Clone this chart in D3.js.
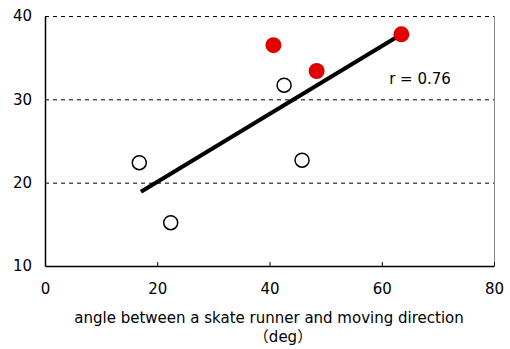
<!DOCTYPE html>
<html>
<head>
<meta charset="utf-8">
<script src="https://cdn.jsdelivr.net/npm/d3@7"></script>
<style>
  body { margin: 0; background: #fff; }
  text { font-family: "DejaVu Sans", "Noto Sans CJK JP", sans-serif; fill: #000; }
</style>
</head>
<body>
<div id="container"></div>
<script>
const WIDTH = 510;
const HEIGHT = 349;
const LEFT = 45, RIGHT = 494, TOP = 16, BOTTOM = 266;

// data
const openX = [16.8, 22.4, 42.6, 45.8];
const openY = [22.4, 15.2, 31.7, 22.7];
const redX = [40.7, 48.4, 63.5];
const redY = [36.5, 33.4, 37.8];
const fitX = [17.1, 63.5];
const fitY = [18.9, 37.8];
const xTicks = [0, 20, 40, 60, 80];
const yTicks = [10, 20, 30, 40];
const rLabel = "r = 0.76";

const svg = d3
  .select("div#container")
  .append("svg")
  .attr("width", WIDTH)
  .attr("height", HEIGHT);

const xScale = d3.scaleLinear().domain([0, 80]).range([LEFT, RIGHT]);
const yScale = d3.scaleLinear().domain([10, 40]).range([BOTTOM, TOP]);

// dashed gridlines
svg
  .selectAll("line.grid")
  .data(yTicks.filter((d) => d > 10))
  .enter()
  .append("line")
  .attr("class", "grid")
  .attr("x1", LEFT)
  .attr("x2", RIGHT)
  .attr("y1", (d) => yScale(d) + 0.5)
  .attr("y2", (d) => yScale(d) + 0.5)
  .attr("stroke", "#000")
  .attr("stroke-width", 1)
  .attr("stroke-dasharray", "4,4");

// right border
svg
  .append("line")
  .attr("x1", RIGHT + 0.5)
  .attr("x2", RIGHT + 0.5)
  .attr("y1", TOP)
  .attr("y2", BOTTOM)
  .attr("stroke", "#888")
  .attr("stroke-width", 1);

const xAxis = d3.axisBottom(xScale).tickValues(xTicks).tickSizeInner(-4).tickSizeOuter(0).tickPadding(17);
const yAxis = d3.axisLeft(yScale).tickValues(yTicks).tickSize(0).tickPadding(13);

const gx = svg
  .append("g")
  .attr("transform", `translate(0, ${BOTTOM})`)
  .call(xAxis);
const gy = svg
  .append("g")
  .attr("transform", `translate(${LEFT}, 0)`)
  .call(yAxis);

[gx, gy].forEach((g) => {
  g.select(".domain").attr("stroke", "#000").attr("stroke-width", 1.5);
  g.selectAll(".tick line").attr("stroke", "#000");
  g.selectAll(".tick text").attr("font-size", 15).attr("fill", "#000");
});

// regression line
svg
  .append("line")
  .attr("x1", xScale(fitX[0]))
  .attr("y1", yScale(fitY[0]))
  .attr("x2", xScale(fitX[1]))
  .attr("y2", yScale(fitY[1]))
  .attr("stroke", "#000")
  .attr("stroke-width", 4);

svg
  .selectAll("circle.open")
  .data(openX)
  .enter()
  .append("circle")
  .attr("class", "open")
  .attr("cx", (d) => xScale(d))
  .attr("cy", (_, i) => yScale(openY[i]))
  .attr("r", 7)
  .attr("fill", "#fff")
  .attr("stroke", "#000")
  .attr("stroke-width", 1.5);

svg
  .selectAll("circle.red")
  .data(redX)
  .enter()
  .append("circle")
  .attr("class", "red")
  .attr("cx", (d) => xScale(d))
  .attr("cy", (_, i) => yScale(redY[i]))
  .attr("r", 8)
  .attr("fill", "#e00000");

svg
  .append("text")
  .attr("x", 420)
  .attr("y", 84)
  .attr("text-anchor", "middle")
  .attr("font-size", 15)
  .text(rLabel);

svg
  .append("text")
  .attr("x", 269)
  .attr("y", 323)
  .attr("text-anchor", "middle")
  .attr("font-size", 15)
  .text("angle between a skate runner and moving direction");

svg
  .append("text")
  .attr("x", 283)
  .attr("y", 342)
  .attr("text-anchor", "middle")
  .attr("font-size", 15)
  .text("（deg）");
</script>
</body>
</html>
